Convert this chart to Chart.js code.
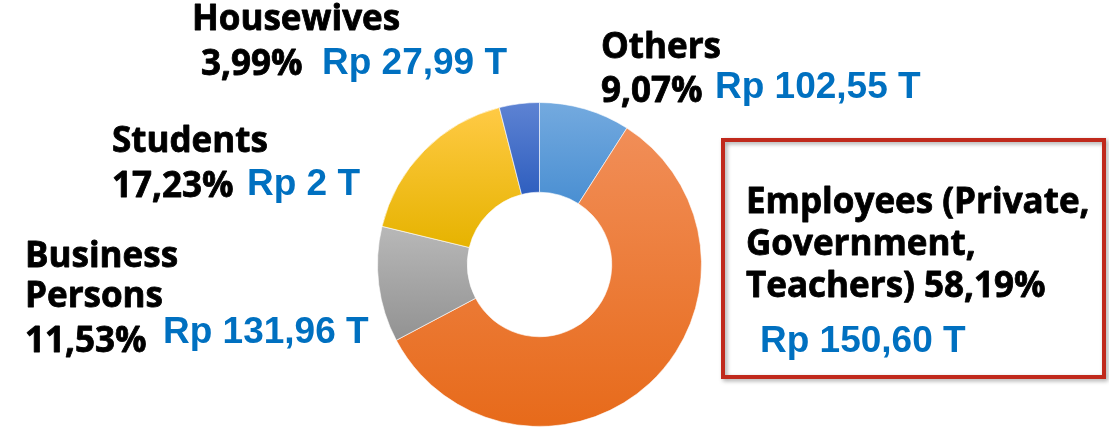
<!DOCTYPE html>
<html>
<head>
<meta charset="utf-8">
<script src="https://cdn.jsdelivr.net/npm/chart.js@4.4.1/dist/chart.umd.min.js"></script>
<style>
  body { margin: 0; background: #fff; }
  #wrap { width: 1109px; height: 428px; position: relative; }
</style>
</head>
<body>
<div id="wrap"><canvas id="donut"></canvas></div>
<script>
// slices run clockwise from 12 o'clock
const categories = ['Others', 'Employees (Private, Government, Teachers)', 'Business Persons', 'Students', 'Housewives'];
const shares = [9.07, 58.19, 11.53, 17.23, 3.99];
const shareLabels = ['9,07%', '58,19%', '11,53%', '17,23%', '3,99%'];
const amountLabels = ['Rp 102,55 T', 'Rp 150,60 T', 'Rp 131,96 T', 'Rp 2 T', 'Rp 27,99 T'];
const nameLines = [['Others'], ['Employees (Private,', 'Government,', 'Teachers)'], ['Business', 'Persons'], ['Students'], ['Housewives']];

// colours: each slice has a vertical gradient over its own box
const sliceTop = ['#74aadf', '#f18e58', '#b8b8b8', '#ffca45', '#5e83d3'];
const sliceBottom = ['#4a8fd2', '#e76a1a', '#929292', '#e6b300', '#2f5fbf'];
const cutRatio = 0.446;

// where the texts sit (left x, baselines)
const labelPos = [
    { x: 601, lines: [58], pct: [601, 102], amt: [715, 98] },
    { x: 746, lines: [213, 255, 297], pct: null, amt: [760, 352] },
    { x: 25, lines: [267, 307], pct: [25, 352], amt: [163, 343] },
    { x: 112, lines: [152], pct: [112, 197], amt: [247, 195] },
    { x: 192, lines: [30], pct: [201, 75], amt: [322, 74] }
];
const blackFont = '700 35px "Open Sans"';
const blueFont = '700 37px "Liberation Sans"';

function sliceFill(ctx) {
    const i = ctx.dataIndex;
    const chart = ctx.chart;
    const area = chart.chartArea;
    if (!area || i === undefined) return sliceTop[i || 0];
    const cx = (area.left + area.right) / 2, cy = (area.top + area.bottom) / 2;
    const R = Math.min(area.width, area.height) / 2, r = R * cutRatio;
    const total = shares.reduce((a, b) => a + b, 0);
    let before = 0;
    for (let k = 0; k < i; k++) before += shares[k];
    const a0 = -Math.PI / 2 + before / total * 2 * Math.PI;
    const a1 = a0 + shares[i] / total * 2 * Math.PI;
    let minY = Infinity, maxY = -Infinity;
    for (let s = 0; s <= 80; s++) {
        const a = a0 + (a1 - a0) * s / 80;
        [r, R].forEach(rad => {
            const y = cy + rad * Math.sin(a);
            minY = Math.min(minY, y);
            maxY = Math.max(maxY, y);
        });
    }
    const g = chart.ctx.createLinearGradient(0, minY, 0, maxY);
    g.addColorStop(0, sliceTop[i]);
    g.addColorStop(1, sliceBottom[i]);
    return g;
}

const labelPlugin = {
    id: 'sliceLabels',
    afterDraw(chart) {
        const c = chart.ctx;
        c.save();
        // red frame round the employees label
        c.shadowColor = 'rgba(0,0,0,0.35)';
        c.shadowBlur = 4;
        c.shadowOffsetX = 2;
        c.shadowOffsetY = 2;
        c.strokeStyle = '#c0291c';
        c.lineWidth = 4;
        c.strokeRect(723, 140, 381, 237);
        c.restore();

        c.save();
        c.textBaseline = 'alphabetic';
        c.textAlign = 'left';
        c.lineJoin = 'round';
        const heavy = (t, x, y) => { c.fillText(t, x, y); c.strokeText(t, x, y); };
        categories.forEach((name, i) => {
            const p = labelPos[i];
            const lines = nameLines[i].slice();
            if (!p.pct) lines[lines.length - 1] += ' ' + shareLabels[i];
            c.font = blackFont;
            c.fillStyle = '#000';
            c.strokeStyle = '#000';
            c.lineWidth = 0.8;
            lines.forEach((t, j) => heavy(t, p.x, p.lines[j]));
            if (p.pct) heavy(shareLabels[i], p.pct[0], p.pct[1]);
            c.font = blueFont;
            c.fillStyle = '#0070c0';
            c.fillText(amountLabels[i], p.amt[0], p.amt[1]);
        });
        c.restore();
    }
};

const chart = new Chart(document.getElementById('donut'), {
    type: 'doughnut',
    data: {
        labels: categories,
        datasets: [{
            data: shares,
            backgroundColor: sliceFill,
            borderColor: 'rgba(255,255,255,0.6)',
            borderWidth: 1
        }]
    },
    options: {
        responsive: true,
        maintainAspectRatio: false,
        animation: false,
        events: [],
        cutout: (cutRatio * 100) + '%',
        layout: { padding: { top: 102, bottom: 1, left: 377, right: 407 } },
        plugins: {
            legend: { display: false },
            tooltip: { enabled: false }
        }
    },
    plugins: [labelPlugin]
});

Promise.all([document.fonts.load(blackFont), document.fonts.load(blueFont)]).then(() => chart.draw());
</script>
</body>
</html>
